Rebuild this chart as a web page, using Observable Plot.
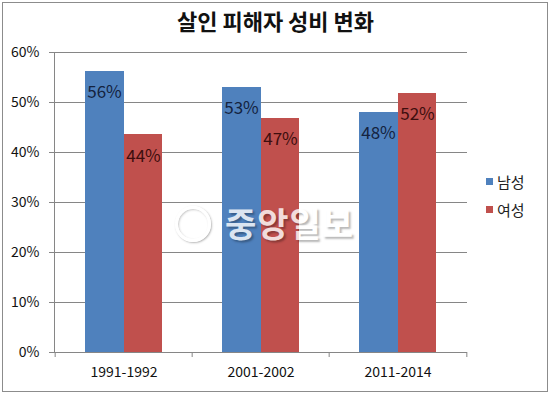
<!DOCTYPE html>
<html>
<head>
<meta charset="utf-8">
<script src="https://cdn.jsdelivr.net/npm/d3@7"></script>
<script src="https://cdn.jsdelivr.net/npm/@observablehq/plot@0.6"></script>
<style>
  html, body { margin: 0; padding: 0; background: #fff; }
  #wrap { position: relative; width: 551px; height: 395px; overflow: hidden; font-family: "Noto Sans CJK KR", "Noto Sans", sans-serif; }
  #border { position: absolute; left: 2px; top: 2px; width: 544px; height: 388px; border: 1px solid #8c8c8c; pointer-events: none; }
  #title { position: absolute; left: 0; top: 5px; width: 551px; text-align: center; font-size: 22px; font-weight: bold; color: #111; line-height: 30px; }
  .leg { position: absolute; left: 486px; font-size: 15px; color: #222; line-height: 18px; }
  .leg span.sw { display: inline-block; width: 7px; height: 7px; margin-right: 4px; vertical-align: middle; position: relative; top: -2px; }
  #wm { position: absolute; left: 175px; top: 204px; opacity: 0.8; pointer-events: none; }
  #wm .circ { position: absolute; left: 0; top: 2px; width: 30px; height: 30px; border: 3px solid #fff; border-radius: 50%; box-shadow: 1px 1px 2px rgba(0,0,0,0.35), inset 1px 1px 2px rgba(0,0,0,0.25); }
  #wm .txt { position: absolute; left: 50px; top: -6px; font-size: 34px; font-weight: bold; color: #fff; white-space: nowrap; text-shadow: 2px 2px 2px rgba(0,0,0,0.35); letter-spacing: 1px; }
  svg rect { shape-rendering: crispEdges; }
</style>
</head>
<body>
<div id="wrap">
  <div id="chart"></div>
  <div id="wm"><div class="circ"></div><div class="txt">중앙일보</div></div>
  <div id="title"></div>
  <div id="legend"></div>
  <div id="border"></div>
</div>
<script>
const title = "살인 피해자 성비 변화";
const periods = ["1991-1992", "2001-2002", "2011-2014"];
const genders = ["남성", "여성"];
const maleValues = [56.3, 53.1, 48.1];
const femaleValues = [43.6, 46.9, 51.9];
const yTicks = [0, 10, 20, 30, 40, 50, 60];
const colors = ["#4F81BD", "#C0504D"];
const labelColors = ["#14233f", "#3d0e0e"];

const data = [];
periods.forEach((p, i) => {
  data.push({period: p, gender: genders[0], value: maleValues[i]});
  data.push({period: p, gender: genders[1], value: femaleValues[i]});
});

const W = 551, H = 395;
const mL = 54, mR = 84, mT = 52, mB = 43;
const bw = (W - mL - mR) / periods.length;
const barW = 39;
const off = (bw - 2 * barW) / 2;
const gridColor = "#868686";

const males = data.filter(d => d.gender === genders[0]);
const females = data.filter(d => d.gender === genders[1]);

const chart = Plot.plot({
  width: W, height: H,
  marginLeft: mL, marginRight: mR, marginTop: mT, marginBottom: mB,
  style: {fontFamily: '"Noto Sans CJK KR", "Noto Sans", sans-serif', background: "transparent"},
  x: {type: "band", domain: periods, padding: 0},
  y: {domain: [0, 60]},
  color: {domain: genders, range: colors},
  marks: [
    Plot.gridY(yTicks, {stroke: gridColor, strokeOpacity: 1}),
    Plot.barY(males, {x: "period", y: "value", fill: "gender", insetLeft: off, insetRight: bw - off - barW - 0.5}),
    Plot.barY(females, {x: "period", y: "value", fill: "gender", insetLeft: off + barW, insetRight: off}),
    Plot.text(males, {x: "period", y: "value", text: d => d3.format(".0%")(d.value / 100), dx: -barW / 2, dy: 22, fontSize: 17, fill: labelColors[0], lineAnchor: "middle"}),
    Plot.text(females, {x: "period", y: "value", text: d => d3.format(".0%")(d.value / 100), dx: barW / 2, dy: 22, fontSize: 17, fill: labelColors[1], lineAnchor: "middle"}),
    Plot.ruleY([0], {stroke: gridColor}),
    Plot.frame({anchor: "left", stroke: gridColor}),
    Plot.ruleX(periods, {x: d => d, y1: 0, y2: 0, dx: -bw / 2, insetBottom: -5, stroke: gridColor}),
    Plot.ruleX(periods.slice(-1), {x: d => d, y1: 0, y2: 0, dx: bw / 2, insetBottom: -5, stroke: gridColor}),
    Plot.axisY(yTicks, {tickFormat: d => d + "%", tickSize: 5, tickPadding: 10, fontSize: 14, stroke: gridColor, color: "#111", label: null}),
    Plot.axisX({tickSize: 0, tickPadding: 15, fontSize: 14, color: "#111", label: null})
  ]
});
document.getElementById("chart").appendChild(chart);
document.getElementById("title").textContent = title;

const legend = document.getElementById("legend");
genders.forEach((g, i) => {
  const el = document.createElement("div");
  el.className = "leg";
  el.style.top = (173 + i * 28) + "px";
  el.innerHTML = `<span class="sw" style="background:${colors[i]}"></span>${g}`;
  legend.appendChild(el);
});
</script>
</body>
</html>
